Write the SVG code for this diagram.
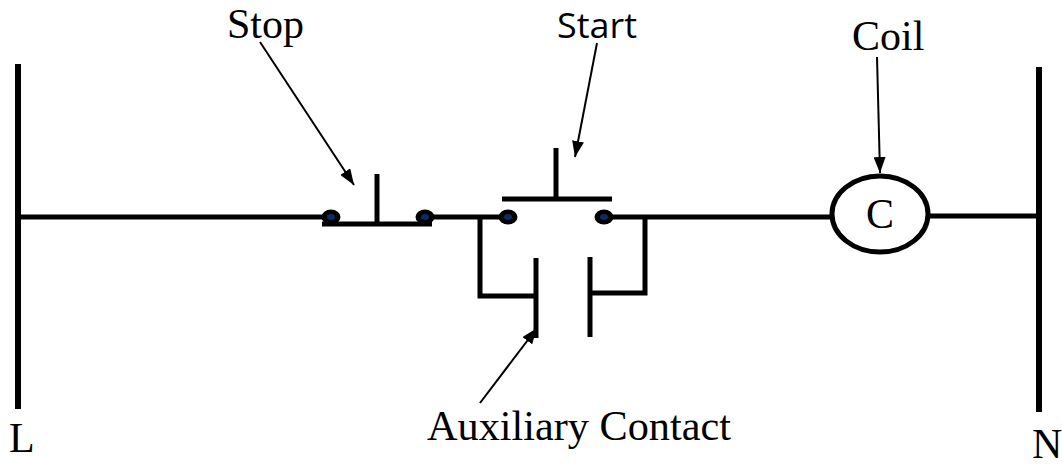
<svg xmlns="http://www.w3.org/2000/svg" width="1062" height="465" viewBox="0 0 1062 465">
<style>
.w{stroke:#000;stroke-width:5;fill:none}
.rail{stroke:#000;stroke-width:6;fill:none}
.ar{stroke:#000;stroke-width:2;fill:none}
.serif{font-family:"Liberation Serif","Times New Roman",serif;font-size:42px;fill:#000}
.sans{font-family:"Open Sans","Liberation Sans",sans-serif;font-size:34px;fill:#000}
.dot{fill:#000}
.dotc{fill:#0b2a66}
</style>
<defs>
<marker id="ah" viewBox="0 0 16 12" refX="16" refY="6" markerWidth="16" markerHeight="12" markerUnits="userSpaceOnUse" orient="auto">
<path d="M0,0 L16,6 L0,12 z" fill="#000"/>
</marker>
</defs>
<rect width="1062" height="465" fill="#fff"/>

<g id="rail-L">
<line class="rail" x1="18" y1="64" x2="18" y2="409"/>
<text class="serif" x="9" y="452">L</text>
</g>
<g id="rail-N">
<line class="rail" x1="1039" y1="67" x2="1039" y2="412"/>
<text class="serif" x="1032" y="458">N</text>
</g>

<g id="connectors">
<line class="w" x1="18" y1="217" x2="331" y2="217"/>
<line class="w" x1="425" y1="217" x2="508" y2="217"/>
<line class="w" x1="604" y1="217" x2="832" y2="217"/>
<line class="w" x1="928" y1="216" x2="1039" y2="216"/>
<polyline class="w" points="480,217 480,296 536,296"/>
<polyline class="w" points="645,217 645,293 590,293"/>
</g>

<g id="stop">
<line class="w" x1="322" y1="224" x2="432" y2="224"/>
<line class="w" x1="377" y1="174" x2="377" y2="224"/>
<ellipse class="dot" cx="331" cy="217" rx="9.5" ry="7.5"/>
<ellipse class="dotc" cx="331" cy="217" rx="4" ry="3"/>
<ellipse class="dot" cx="425" cy="217" rx="9.5" ry="7.5"/>
<ellipse class="dotc" cx="425" cy="217" rx="4" ry="3"/>
<text class="serif" x="227" y="38">Stop</text>
</g>

<g id="start">
<line class="w" x1="502" y1="199" x2="612" y2="199"/>
<line class="w" x1="556" y1="148" x2="556" y2="199"/>
<ellipse class="dot" cx="508" cy="217" rx="9.5" ry="7.5"/>
<ellipse class="dotc" cx="508" cy="217" rx="4" ry="3"/>
<ellipse class="dot" cx="604" cy="217" rx="9.5" ry="7.5"/>
<ellipse class="dotc" cx="604" cy="217" rx="4" ry="3"/>
<text class="sans" x="557" y="38" textLength="80" lengthAdjust="spacingAndGlyphs">Start</text>
</g>

<g id="aux">
<line class="w" x1="536" y1="258" x2="536" y2="338"/>
<line class="w" x1="590" y1="257" x2="590" y2="337"/>
<text class="serif" x="427" y="440" textLength="304" lengthAdjust="spacingAndGlyphs">Auxiliary Contact</text>
</g>

<g id="coil">
<ellipse cx="880" cy="214" rx="48" ry="38" fill="#fff" stroke="#000" stroke-width="5"/>
<text class="serif" x="880" y="228" text-anchor="middle" font-size="40">C</text>
<text class="serif" x="852" y="50">Coil</text>
</g>

<g id="label-arrows">
<line class="ar" x1="260" y1="42" x2="354" y2="185" marker-end="url(#ah)"/>
<line class="ar" x1="597" y1="43" x2="575" y2="157" marker-end="url(#ah)"/>
<line class="ar" x1="877" y1="57" x2="880" y2="173" marker-end="url(#ah)"/>
<line class="ar" x1="480" y1="403" x2="537" y2="328" marker-end="url(#ah)"/>
</g>
</svg>
